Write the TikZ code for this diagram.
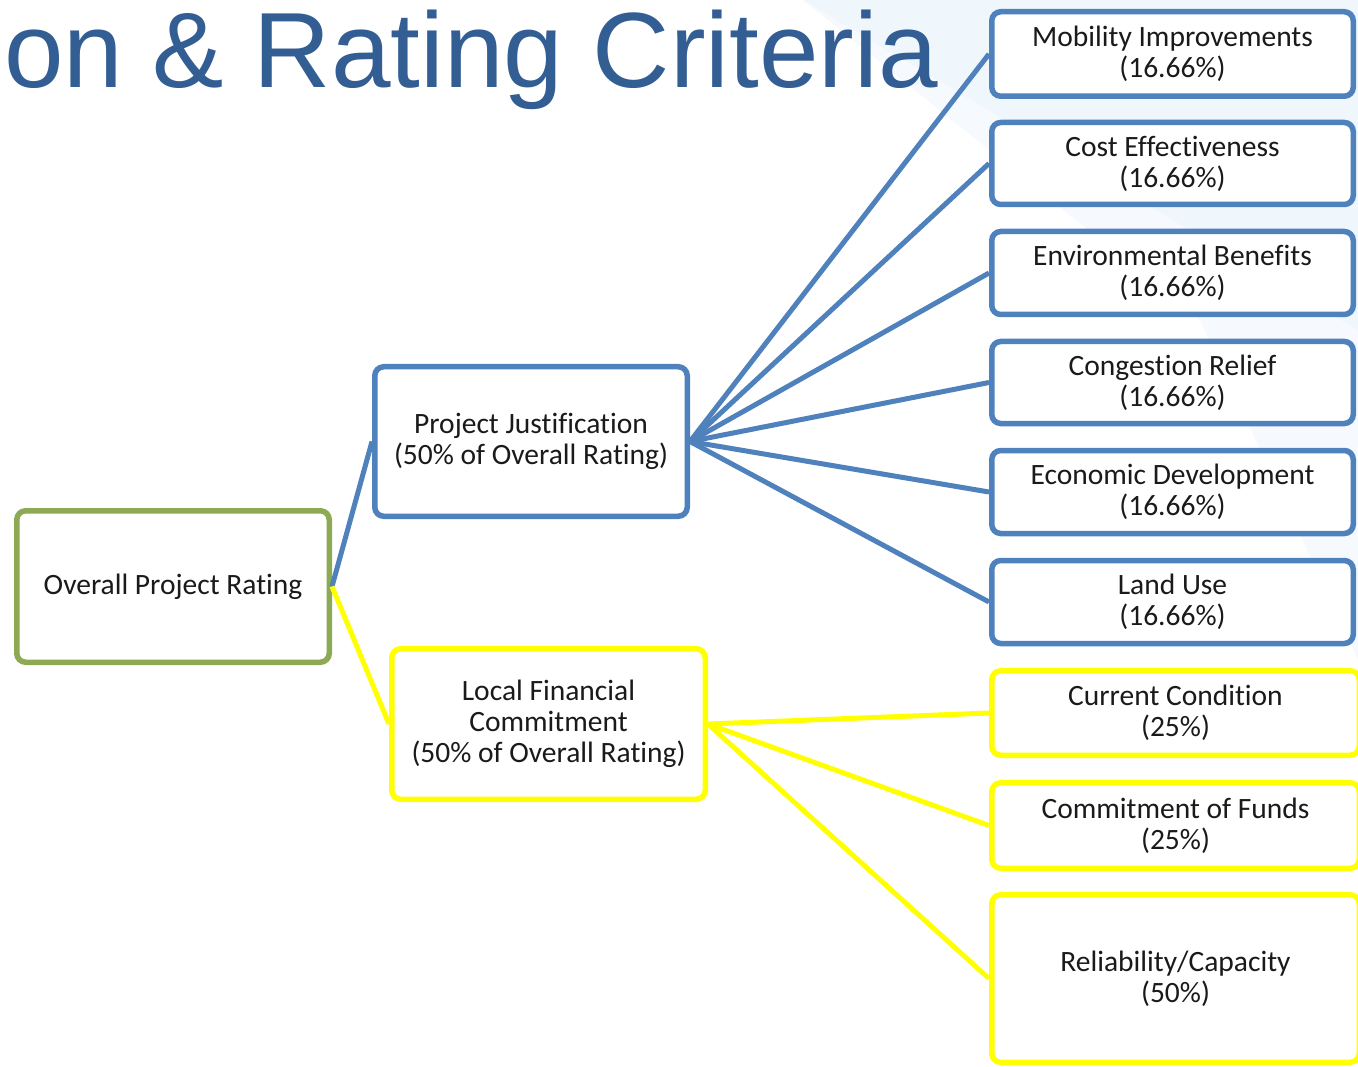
\documentclass[tikz,border=0pt]{standalone}
\usepackage{fontspec}
\setmainfont{Carlito}[Ligatures={NoCommon}]
\newfontfamily\titlefont{Liberation Sans}
\definecolor{pjblue}{HTML}{4F81BD}
\definecolor{lfyellow}{HTML}{FFFF00}
\definecolor{ovgreen}{HTML}{8DA954}
\definecolor{titleblue}{HTML}{335E93}
\definecolor{bandblue}{HTML}{F0F7FC}
\definecolor{bandblue2}{HTML}{F6FAFE}
\definecolor{bodytext}{HTML}{1A1A1A}
\tikzset{
  crit/.style={draw, rounded corners=9pt, line width=5.5pt, fill=white,
    align=center, inner sep=0pt, text=bodytext,
    font=\fontsize{29.5}{31}\selectfont},
  bluebox/.style={crit, draw=pjblue},
  yellowbox/.style={crit, draw=lfyellow},
  greenbox/.style={crit, draw=ovgreen},
  blueline/.style={draw=pjblue, line width=5pt},
  yellowline/.style={draw=lfyellow, line width=5pt},
}
\begin{document}
\begin{tikzpicture}[x=1pt, y=-1pt]
  \useasboundingbox (0,0) rectangle (1358,1067);
  % page background with the faint diagonal swoosh
  \fill[white!98!blue!2] (0,0) rectangle (1358,1067);
  \fill[bandblue2] (803,0) -- (1358,0) -- (1358,660) -- (1200,320) -- cycle;
  \fill[bandblue] (803,0) -- (1358,0) -- (1358,330) -- cycle;

  % heading
  \node[anchor=base west, inner sep=0pt, text=titleblue,
        font=\titlefont\fontsize{107}{107}\selectfont] (title) at (4,88)
        {on \& Rating Criteria};

  % top level
  \node[greenbox, minimum width=312.5pt, minimum height=151.5pt] (ov) at (173,586.5)
    {Overall Project Rating};

  % second level
  \node[bluebox, minimum width=312.5pt, minimum height=149.5pt] (pj) at (531,441.5)
    {Project Justification\\(50\% of Overall Rating)};
  \node[yellowbox, minimum width=313.5pt, minimum height=150.5pt] (lfc) at (548.5,724)
    {Local Financial\\Commitment\\(50\% of Overall Rating)};

  % project justification criteria
  \node[bluebox, minimum width=361.5pt, minimum height=84.5pt] (mob) at (1172.5,54)
    {Mobility Improvements\\(16.66\%)};
  \node[bluebox, minimum width=361.5pt, minimum height=82pt] (cost) at (1172.5,163.5)
    {Cost Effectiveness\\(16.66\%)};
  \node[bluebox, minimum width=361.5pt, minimum height=83pt] (env) at (1172.5,273)
    {Environmental Benefits\\(16.66\%)};
  \node[bluebox, minimum width=361.5pt, minimum height=82pt] (cong) at (1172.5,382.5)
    {Congestion Relief\\(16.66\%)};
  \node[bluebox, minimum width=361.5pt, minimum height=83pt] (econ) at (1172.5,492)
    {Economic Development\\(16.66\%)};
  \node[bluebox, minimum width=361.5pt, minimum height=83pt] (land) at (1172.5,602)
    {Land Use\\(16.66\%)};

  % local financial commitment criteria
  \node[yellowbox, minimum width=367.5pt, minimum height=84.5pt] (cur) at (1175.5,713)
    {Current Condition\\(25\%)};
  \node[yellowbox, minimum width=367.5pt, minimum height=85.5pt] (fund) at (1175.5,825.5)
    {Commitment of Funds\\(25\%)};
  \node[yellowbox, minimum width=367.5pt, minimum height=167.5pt] (rel) at (1175.5,978.5)
    {Reliability/Capacity\\(50\%)};

  % connectors between the levels
  \draw[blueline] (ov.east) -- (pj.west);
  \draw[yellowline] (ov.east) -- (lfc.west);
  \foreach \c in {mob,cost,env,cong,econ,land}
    \draw[blueline] (pj.east) -- (\c.west);
  \foreach \c in {cur,fund,rel}
    \draw[yellowline] (lfc.east) -- (\c.west);
\end{tikzpicture}
\end{document}
